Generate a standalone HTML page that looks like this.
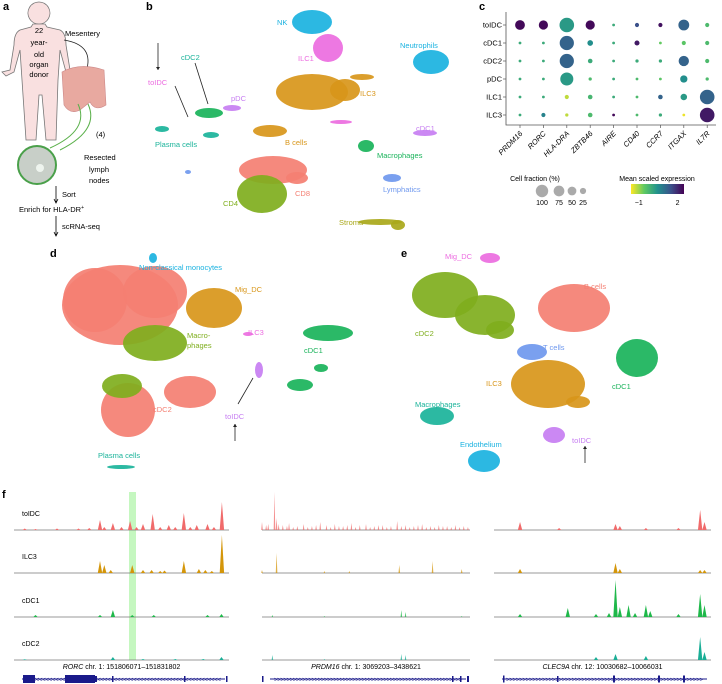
<!DOCTYPE html>
<html><head><meta charset="utf-8"><style>
body{margin:0;background:#fff}
svg{display:block;font-family:"Liberation Sans",sans-serif}
</style></head><body>
<svg id="fig" width="722" height="684" viewBox="0 0 722 684" xmlns="http://www.w3.org/2000/svg">
<g font-weight="bold" font-size="11">
<text x="3" y="10">a</text><text x="146" y="10">b</text><text x="479" y="10">c</text>
<text x="50" y="257">d</text><text x="401" y="257">e</text><text x="2" y="498">f</text>
</g>
<g font-size="7.5">
<path d="M39,2 a11,11 0 1 1 -0.1,0 Z M33,24 L45,24 L47,27 L60,30 Q66,33 66,45 L70,70 L78,72 L74,76 L66,72 L60,50 L58,80 L56,140 L46,140 L42,95 L39,95 L36,140 L26,140 L22,80 L20,50 L14,72 L6,76 L2,72 L10,70 L14,45 Q14,33 20,30 L31,27 Z" fill="#f9e0e0" stroke="#777" stroke-width="0.8"/>
<text x="39" y="33" text-anchor="middle">22</text><text x="39" y="45" text-anchor="middle">year-</text>
<text x="39" y="57" text-anchor="middle">old</text><text x="39" y="67" text-anchor="middle">organ</text><text x="39" y="77" text-anchor="middle">donor</text>
<text x="65" y="36">Mesentery</text>
<path d="M64,40 Q95,45 86,72" fill="none" stroke="#222" stroke-width="0.8"/>
<path d="M62,72 Q80,62 104,70 L106,105 Q95,112 90,102 L80,110 Q70,115 64,105 Z" fill="#e8a9a0" stroke="#c88" stroke-width="0.6"/>
<path d="M78,104 Q90,130 50,148 M88,104 Q100,130 60,150" fill="none" stroke="#5ab04a" stroke-width="1"/>
<circle cx="37" cy="165" r="19" fill="#c8cfc8" stroke="#4aa04a" stroke-width="2"/>
<circle cx="40" cy="168" r="4" fill="#eef4ee"/>
<text x="96" y="137">(4)</text><text x="84" y="160">Resected</text><text x="89" y="172">lymph</text><text x="89" y="183">nodes</text>
<path d="M56,186 L56,202 M54,199 L56,203 L58,199 M56,216 L56,235 M54,232 L56,236 L58,232" stroke="#000" stroke-width="0.8" fill="none"/>
<text x="62" y="197">Sort</text><text x="19" y="212">Enrich for HLA-DR<tspan font-size="5" dy="-3">+</tspan></text>
<text x="62" y="229">scRNA-seq</text>
</g>
<g id="umaps"></g>
<g id="dot"></g>
<g id="tracks"></g>
</svg>
<script>
const NS="http://www.w3.org/2000/svg";
function mk(parent,tag,attrs,txt){const e=document.createElementNS(NS,tag);for(const k in attrs)e.setAttribute(k,attrs[k]);if(txt!==undefined)e.textContent=txt;parent.appendChild(e);return e;}
const C={sal:"#f47f72",olv:"#7fae1d",ora:"#d8961a",grn:"#19b35a",tea:"#1ab39a",cya:"#1ab2e0",pnk:"#ec6ce0",blu:"#6f98ee",pur:"#c77ef2",yol:"#a9a81a"};
const umapB=[[312,22,20,12,"cya"],[328,48,15,14,"pnk"],[312,92,36,18,"ora"],[345,90,15,11,"ora"],[362,77,12,3,"ora"],[431,62,18,12,"cya"],[270,131,17,6,"ora"],[366,146,8,6,"grn"],[425,133,12,3,"pur"],[392,178,9,4,"blu"],[273,170,34,14,"sal"],[262,194,25,19,"olv"],[297,178,11,6,"sal"],[162,129,7,3,"tea"],[211,135,8,3,"tea"],[209,113,14,5,"grn"],[232,108,9,3,"pur"],[341,122,11,2,"pnk"],[188,172,3,2,"blu"],[380,222,22,3,"yol"],[398,225,7,5,"yol"]];
const labelsB=[["NK",277,25,"cya"],["ILC1",298,61,"pnk"],["ILC3",360,96,"ora"],["Neutrophils",400,48,"cya"],["toIDC",148,85,"pnk"],["cDC2",181,60,"tea"],["pDC",231,101,"pur"],["Plasma cells",155,147,"tea"],["B cells",285,145,"ora"],["Macrophages",377,158,"grn"],["cDC1",416,131,"pur"],["Lymphatics",383,192,"blu"],["CD4",223,206,"olv"],["CD8",295,196,"sal"],["Stroma",339,225,"yol"]];
const umapD=[[120,305,58,40,"sal"],[95,300,32,32,"sal"],[155,292,32,26,"sal"],[214,308,28,20,"ora"],[155,343,32,18,"olv"],[128,410,27,27,"sal"],[190,392,26,16,"sal"],[122,386,20,12,"olv"],[153,258,4,5,"cya"],[248,334,5,2,"pnk"],[328,333,25,8,"grn"],[321,368,7,4,"grn"],[300,385,13,6,"grn"],[259,370,4,8,"pur"],[121,467,14,2,"tea"]];
const labelsD=[["Non-classical monocytes",139,270,"cya"],["Mig_DC",235,292,"ora"],["Macro-",187,338,"olv"],["phages",187,348,"olv"],["ILC3",248,335,"pnk"],["cDC1",304,353,"grn"],["cDC2",153,412,"sal"],["toIDC",225,419,"pur"],["Plasma cells",98,458,"tea"]];
const umapE=[[445,295,33,23,"olv"],[485,315,30,20,"olv"],[500,330,14,9,"olv"],[490,258,10,5,"pnk"],[574,308,36,24,"sal"],[532,352,15,8,"blu"],[548,384,37,24,"ora"],[578,402,12,6,"ora"],[637,358,21,19,"grn"],[437,416,17,9,"tea"],[484,461,16,11,"cya"],[554,435,11,8,"pur"]];
const labelsE=[["Mig_DC",445,259,"pnk"],["cDC2",415,336,"olv"],["B cells",584,289,"sal"],["T cells",543,350,"blu"],["ILC3",486,386,"ora"],["cDC1",612,389,"grn"],["Macrophages",415,407,"tea"],["Endothelium",460,447,"cya"],["toIDC",572,443,"pur"]];
const U=document.getElementById("umaps");
function drawUmap(cl,lb,nm){
 cl.forEach((c,i)=>{const e=mk(U,"ellipse",{cx:c[0],cy:c[1],rx:c[2],ry:c[3],fill:C[c[4]],opacity:0.92});
 
 });
 lb.forEach(l=>{const t=mk(U,"text",{x:l[1],y:l[2],fill:C[l[3]],"font-size":"7.5"},l[0]);
 
 });
}
drawUmap(umapB,labelsB,"umap-b");drawUmap(umapD,labelsD,"umap-d");drawUmap(umapE,labelsE,"umap-e");
[[158,43,158,70,1],[175,86,188,117,0],[195,63,208,104,0],[238,404,253,378,0],[235,441,235,424,1],[585,463,585,446,1]].forEach((a,i)=>{
 const l=mk(U,"line",{x1:a[0],y1:a[1],x2:a[2],y2:a[3],stroke:i==4?"#888":"#222","stroke-width":i==4?1.5:0.8});
 
 
 if(a[4]){const d=a[3]>a[1]?1:-1;const p=mk(U,"path",{d:`M${a[2]-2},${a[3]-3*d} L${a[2]},${a[3]} L${a[2]+2},${a[3]-3*d}Z`,fill:"#222"});
 
 }
});
const genes=["PRDM16","RORC","HLA-DRA","ZBTB46","AIRE","CD40","CCR7","ITGAX","IL7R"];
const cells=["toIDC","cDC1","cDC2","pDC","ILC1","ILC3"];
const fracToIDC=[45,40,100,40,3,8,8,55,8];
const fracCDC1=[3,3,95,15,3,12,3,8,8];
const fracCDC2=[3,3,95,10,3,5,5,50,8];
const fracPDC=[3,3,80,5,3,3,3,25,5];
const fracILC1=[3,3,8,10,3,3,10,20,100];
const fracILC3=[3,8,5,10,3,3,5,3,100];
const exprToIDC=[2.4,2.4,0.3,2.4,0,1.5,2.3,1.2,-0.3];
const exprCDC1=[0,0,1.2,0.5,0,2.2,-0.6,-0.5,-0.3];
const exprCDC2=[0,0,1.2,0,0,0,0,1.2,-0.3];
const exprPDC=[0,0,0.3,-0.3,0,-0.3,-0.5,0.5,-0.3];
const exprILC1=[0,0,-1.2,-0.2,0,-0.3,1.2,0.3,1.2];
const exprILC3=[0,0.7,-1.2,-0.3,2.4,-0.3,0,-1.5,2.2];
const fracs=[fracToIDC,fracCDC1,fracCDC2,fracPDC,fracILC1,fracILC3];
const exprs=[exprToIDC,exprCDC1,exprCDC2,exprPDC,exprILC1,exprILC3];
const legendFrac=[100,75,50,25];
const cbTicks=[-1,2];
const vir=[[253,231,37],[94,201,98],[33,145,140],[59,82,139],[68,1,84]];
function colorScale(v){let t=(v+1.6)/4.1;t=Math.max(0,Math.min(1,t));const s=t*(vir.length-1),i=Math.min(vir.length-2,Math.floor(s)),f=s-i;const c=vir[i].map((a,k)=>Math.round(a+(vir[i+1][k]-a)*f));return`rgb(${c})`;}
const xG=i=>520+i*23.4, yC=i=>25+i*18, rS=f=>Math.max(1.4,7.3*Math.sqrt(f/100));
const D=document.getElementById("dot");
const ax=mk(D,"path",{d:"M506,12 L506,125 L716,125",fill:"none",stroke:"#555","stroke-width":0.8});


cells.forEach((c,r)=>{const t=mk(D,"text",{x:502,y:yC(r)+2.5,"font-size":"7.5","text-anchor":"end"},c);
 
 
 const tk=mk(D,"line",{x1:503,x2:506,y1:yC(r),y2:yC(r),stroke:"#555","stroke-width":0.7});
 
 
 genes.forEach((g,k)=>{const d=mk(D,"circle",{cx:xG(k),cy:yC(r),r:rS(fracs[r][k]),fill:colorScale(exprs[r][k])});
 
 });});
genes.forEach((g,k)=>{const tk=mk(D,"line",{x1:xG(k),x2:xG(k),y1:125,y2:128,stroke:"#555","stroke-width":0.7});
 
 
 const t=mk(D,"text",{x:xG(k)+3,y:134,"font-size":"7.5","font-style":"italic","text-anchor":"end",transform:`rotate(-45 ${xG(k)+3} 134)`},g);
 
 });
const lt=mk(D,"text",{x:535,y:181,"font-size":"7","text-anchor":"middle"},"Cell fraction (%)");


legendFrac.forEach((f,i)=>{const cx=[542,559,572,583][i];
 const c=mk(D,"circle",{cx:cx,cy:191,r:rS(f)*0.85,fill:"#aaa"});
 
 
 const t=mk(D,"text",{x:cx,y:205,"font-size":"7","text-anchor":"middle"},f);
 
 });
const ct=mk(D,"text",{x:657,y:181,"font-size":"7","text-anchor":"middle"},"Mean scaled expression");


const defs=mk(document.getElementById("fig"),"defs",{});
const lg=mk(defs,"linearGradient",{id:"vg"});
vir.forEach((c,i)=>mk(lg,"stop",{offset:i/(vir.length-1),"stop-color":`rgb(${c})`}));
const cb=mk(D,"rect",{x:631,y:184,width:53,height:10,fill:"url(#vg)"});


cbTicks.forEach(v=>{const x=631+(v+1.6)/4.1*53;const t=mk(D,"text",{x:x,y:205,"font-size":"7","text-anchor":"middle"},v<0?"\u2212"+(-v):v);
 
 });
const trackNames=["toIDC","ILC3","cDC1","cDC2"];
const trackColors=["#f06b6b","#d4960a","#1fb84a","#1aae96"];
const baseY=[530,573,617,660];
const regionX0=[14,262,494], regionX1=[229,470,711];
const rorcToIDC=[[0.05,1.5],[0.1,1],[0.2,1.5],[0.3,1.5],[0.35,2],[0.4,10],[0.42,3],[0.46,7],[0.5,3],[0.54,9],[0.57,3],[0.6,6],[0.645,16],[0.68,3],[0.72,5],[0.75,3],[0.79,17],[0.82,3],[0.85,5],[0.9,6],[0.93,3],[0.967,28]];
const rorcILC3=[[0.40,12],[0.42,8],[0.45,3],[0.55,8],[0.6,3],[0.64,3],[0.68,2],[0.7,2.5],[0.79,12],[0.86,4],[0.89,3],[0.92,2],[0.967,38]];
const rorcCDC1=[[0.1,2],[0.4,2],[0.46,7],[0.55,2],[0.65,2],[0.9,2],[0.965,3]];
const rorcCDC2=[[0.05,0.8],[0.46,3],[0.6,1],[0.75,1],[0.88,1],[0.965,3]];
const prdmToIDC=[[0.0,8],[0.02,5],[0.03,6],[0.06,38],[0.07,12],[0.08,6],[0.1,5],[0.12,4],[0.13,7],[0.15,3],[0.17,4],[0.2,6],[0.22,3],[0.24,4],[0.26,5],[0.28,8],[0.31,5],[0.33,3],[0.35,6],[0.37,4],[0.39,4],[0.41,5],[0.43,7],[0.45,3],[0.47,5],[0.5,6],[0.52,3],[0.54,4],[0.56,5],[0.58,5],[0.6,3],[0.62,4],[0.65,9],[0.67,4],[0.69,5],[0.71,3],[0.73,4],[0.75,5],[0.77,6],[0.79,3],[0.81,4],[0.83,3],[0.85,5],[0.87,4],[0.89,4],[0.91,3],[0.93,5],[0.95,3],[0.97,4],[0.99,3]];
const prdmILC3=[[0.0,3],[0.07,20],[0.3,2],[0.42,2],[0.66,8],[0.82,12],[0.96,4]];
const prdmCDC1=[[0.05,2],[0.3,1],[0.67,7],[0.69,5],[0.96,1]];
const prdmCDC2=[[0.05,5],[0.3,1],[0.67,6],[0.69,5]];
const clecToIDC=[[0.12,8],[0.3,2],[0.56,6],[0.58,4],[0.7,2],[0.85,2],[0.95,20],[0.97,8]];
const clecILC3=[[0.12,4],[0.56,10],[0.58,4],[0.95,3],[0.97,3]];
const clecCDC1=[[0.12,3],[0.34,9],[0.47,3],[0.53,4],[0.56,37],[0.58,10],[0.62,12],[0.65,4],[0.7,12],[0.72,6],[0.85,3],[0.95,23],[0.97,12]];
const clecCDC2=[[0.47,3],[0.56,6],[0.7,4],[0.95,23],[0.97,8]];
const peakSets=[[rorcToIDC,prdmToIDC,clecToIDC],[rorcILC3,prdmILC3,clecILC3],[rorcCDC1,prdmCDC1,clecCDC1],[rorcCDC2,prdmCDC2,clecCDC2]];
const genesF=["RORC","PRDM16","CLEC9A"];
const locusF=["chr. 1: 151806071\u2013151831802","chr. 1: 3069203\u20133438621","chr. 12: 10030682\u201310066031"];
const T=document.getElementById("tracks");
const hl=mk(T,"rect",{x:129,y:492,width:7,height:168,fill:"#b7f5b0",opacity:0.8});


const xT=(r,f)=>regionX0[r]+f*(regionX1[r]-regionX0[r]);
trackNames.forEach((n,ti)=>{
 const t=mk(T,"text",{x:22,y:baseY[ti]-14,"font-size":"7"},n);
 
 
 for(let r=0;r<3;r++){
  const b=mk(T,"line",{x1:regionX0[r],x2:regionX1[r],y1:baseY[ti],y2:baseY[ti],stroke:"#777","stroke-width":0.8});
  
  
  peakSets[ti][r].forEach(p=>{const x=xT(r,p[0]),w=r==1?0.8:2.2;
   const pk=mk(T,"path",{d:`M${x-w},${baseY[ti]} L${x},${baseY[ti]-p[1]} L${x+w},${baseY[ti]}Z`,fill:trackColors[ti],opacity:r==1?0.75:1});
   
   });
 }});
genesF.forEach((g,r)=>{const cx=(regionX0[r]+regionX1[r])/2;
 const t=mk(T,"text",{x:cx,y:669,"font-size":"7","text-anchor":"middle"});
 
 
 mk(t,"tspan",{"font-style":"italic"},g+"   ");mk(t,"tspan",{},locusF[r]);
 const l=mk(T,"line",{x1:regionX0[r]+8,x2:regionX1[r]-4,y1:679,y2:679,stroke:"#1a1a8a","stroke-width":1});
 
 
 const ch=mk(T,"text",{x:regionX0[r]+12,y:681.5,"font-size":"6",fill:"#1a1a8a",textLength:regionX1[r]-regionX0[r]-20},(r==0?"<":">").repeat(60));
 
 
});
[[23,12,8],[65,30,8],[94,3,6],[112,1.5,6],[184,1.5,6],[226,1.5,6],[262,1.5,6],[452,1.5,6],[460,1.5,6],[467,2,6],[503,1.5,7],[557,1.5,6],[613,2,7],[658,2,7],[683,2,7]].forEach(b=>{
 const e=mk(T,"rect",{x:b[0],y:679-b[2]/2,width:b[1],height:b[2],fill:"#1a1a8a"});
 
 });
</script>
</body></html>
